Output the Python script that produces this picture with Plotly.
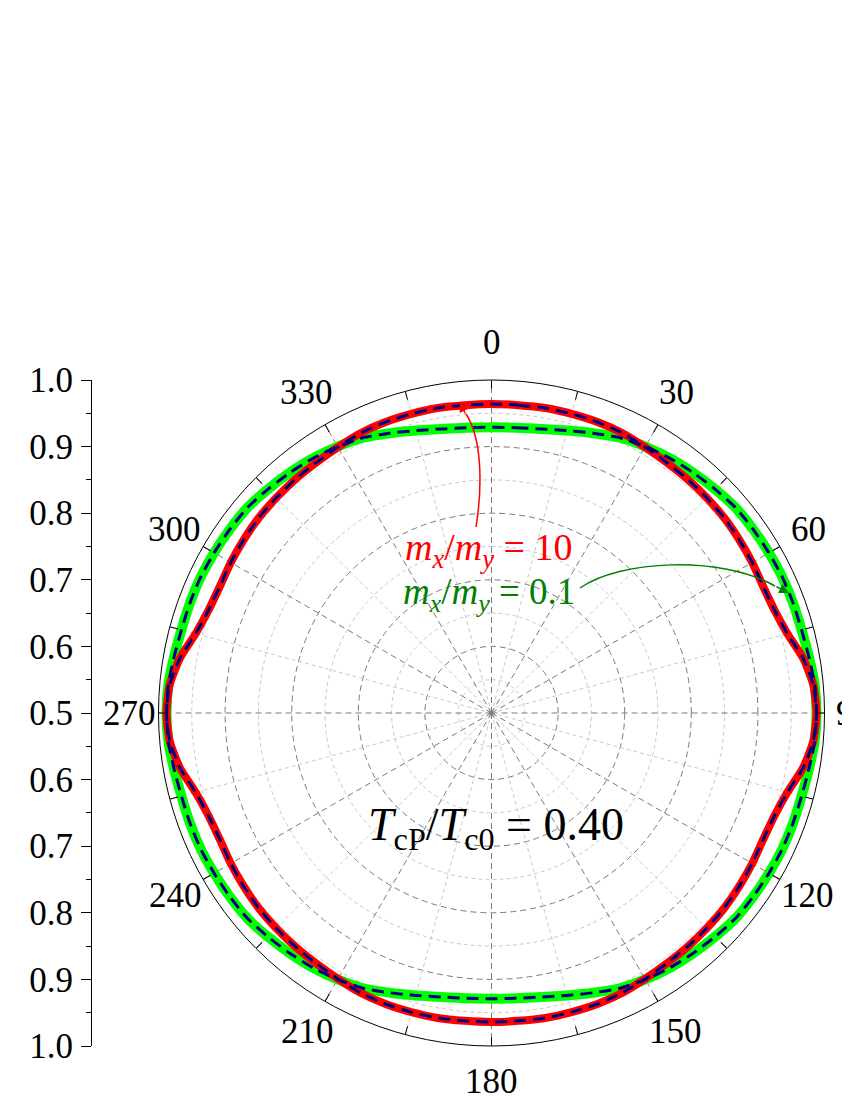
import numpy as np
import plotly.graph_objects as go

# ---------------- data ----------------
theta_deg = list(range(0, 365, 5))

# m_x/m_y = 10 (red)
r_ratio_10 = [0.964, 0.964, 0.965, 0.965, 0.965, 0.964, 0.961, 0.959, 0.958, 0.957,
              0.956, 0.954, 0.952, 0.950, 0.952, 0.960, 0.975, 0.985, 0.988,
              0.985, 0.975, 0.960, 0.952, 0.950, 0.952, 0.954, 0.956, 0.957,
              0.958, 0.959, 0.961, 0.964, 0.965, 0.965, 0.965, 0.964, 0.964,
              0.964, 0.965, 0.965, 0.965, 0.964, 0.961, 0.959, 0.958, 0.957,
              0.956, 0.954, 0.952, 0.950, 0.952, 0.960, 0.975, 0.985, 0.988,
              0.985, 0.975, 0.960, 0.952, 0.950, 0.952, 0.954, 0.956, 0.957,
              0.958, 0.959, 0.961, 0.964, 0.965, 0.965, 0.965, 0.964, 0.964]

# m_x/m_y = 0.1 (green)
r_ratio_01 = [0.929, 0.930, 0.933, 0.939, 0.947, 0.956, 0.962, 0.967, 0.971, 0.975,
              0.979, 0.980, 0.981, 0.982, 0.982, 0.982, 0.984, 0.987, 0.988,
              0.987, 0.984, 0.982, 0.982, 0.982, 0.981, 0.980, 0.979, 0.975,
              0.971, 0.967, 0.962, 0.956, 0.947, 0.939, 0.933, 0.930, 0.929,
              0.930, 0.933, 0.939, 0.947, 0.956, 0.962, 0.967, 0.971, 0.975,
              0.979, 0.980, 0.981, 0.982, 0.982, 0.982, 0.984, 0.987, 0.988,
              0.987, 0.984, 0.982, 0.982, 0.982, 0.981, 0.980, 0.979, 0.975,
              0.971, 0.967, 0.962, 0.956, 0.947, 0.939, 0.933, 0.930, 0.929]

angle_ticks = list(range(0, 360, 15))
angle_label_vals = list(range(0, 360, 30))
angle_label_text = [str(a) for a in angle_label_vals]
left_tickvals = [-0.5, -0.4, -0.3, -0.2, -0.1, 0.0, 0.1, 0.2, 0.3, 0.4, 0.5]
left_ticktext = ["1.0", "0.9", "0.8", "0.7", "0.6", "0.5", "0.6", "0.7", "0.8", "0.9", "1.0"]
major_circles = [0.6, 0.7, 0.8, 0.9]
minor_circles = [0.55, 0.65, 0.75, 0.85, 0.95]

# ---------------- layout geometry ----------------
W, H = 850, 1100
OFF = 8  # page body margin
CX, CY, R = 491.5, 713.0, 333.0
FONT = "Liberation Serif"
TICK_SIZE = 35


def fx(x):
    return (x - OFF) / W


def fy(y):
    return 1 - (y - OFF) / H


dom_x = [fx(CX - R), fx(CX + R)]
dom_y = [fy(CY + R), fy(CY - R)]

fig = go.Figure()

# minor grid circles
th_c = np.arange(0, 361, 2)
for rc in minor_circles:
    fig.add_trace(go.Scatterpolar(r=[rc] * len(th_c), theta=th_c, mode="lines",
                                  line=dict(color="#c8c8c8", width=1, dash="4px,3px"),
                                  hoverinfo="skip", showlegend=False))
# spokes
minor_r, minor_t, major_r, major_t = [], [], [], []
for a in angle_ticks:
    if a % 30 == 0:
        major_r += [0.5, 1.0, None]
        major_t += [a, a, None]
    else:
        minor_r += [0.5, 1.0, None]
        minor_t += [a, a, None]
fig.add_trace(go.Scatterpolar(r=minor_r, theta=minor_t, mode="lines",
                              line=dict(color="#c8c8c8", width=1, dash="4px,3px"),
                              hoverinfo="skip", showlegend=False))
fig.add_trace(go.Scatterpolar(r=major_r, theta=major_t, mode="lines",
                              line=dict(color="#7a7a7a", width=1, dash="6px,4px"),
                              hoverinfo="skip", showlegend=False))

# curves
fig.add_trace(go.Scatterpolar(r=r_ratio_01, theta=theta_deg, mode="lines",
                              line=dict(color="#00ff00", width=10, shape="spline", smoothing=0.6),
                              showlegend=False))
fig.add_trace(go.Scatterpolar(r=r_ratio_10, theta=theta_deg, mode="lines",
                              line=dict(color="#ff0000", width=8, shape="spline", smoothing=0.6),
                              showlegend=False))
fig.add_trace(go.Scatterpolar(r=r_ratio_01, theta=theta_deg, mode="lines",
                              line=dict(color="#000080", width=3, dash="12px,7px",
                                        shape="spline", smoothing=0.6),
                              showlegend=False))
fig.add_trace(go.Scatterpolar(r=r_ratio_10, theta=theta_deg, mode="lines",
                              line=dict(color="#000080", width=3, dash="12px,7px",
                                        shape="spline", smoothing=0.6),
                              showlegend=False))

# dummy trace for left cartesian axis
fig.add_trace(go.Scatter(x=[0.5], y=[0], mode="markers", marker=dict(opacity=0),
                         hoverinfo="skip", showlegend=False, xaxis="x", yaxis="y"))

fig.update_layout(
    width=W, height=H,
    margin=dict(l=0, r=0, t=0, b=0, pad=0, autoexpand=False),
    paper_bgcolor="white", plot_bgcolor="white",
    font=dict(family=FONT, color="black", size=TICK_SIZE),
    polar=dict(
        domain=dict(x=dom_x, y=dom_y),
        bgcolor="white",
        angularaxis=dict(rotation=90, direction="clockwise",
                         tickmode="array", tickvals=angle_ticks,
                         showticklabels=False,
                         ticks="inside", ticklen=8, tickcolor="black", tickwidth=1,
                         showline=True, linecolor="black", linewidth=1,
                         showgrid=False),
        radialaxis=dict(range=[0.5, 1.0], tickmode="array", tickvals=major_circles,
                        showticklabels=False, ticks="", showline=False,
                        showgrid=True, gridcolor="#7a7a7a", gridwidth=1,
                        griddash="6px,4px"),
    ),
    xaxis=dict(domain=[0, 0.05], range=[0, 1], visible=False),
    yaxis=dict(domain=dom_y, range=[-0.5, 0.5], anchor="free", position=fx(91),
               side="left", tickmode="array", tickvals=left_tickvals,
               ticktext=left_ticktext, ticks="outside", ticklen=10,
               tickcolor="black", showline=True, linecolor="black", linewidth=1,
               showgrid=False, zeroline=False, ticklabelstandoff=1, automargin=False,
               tickfont=dict(family=FONT, size=TICK_SIZE, color="black"),
               minor=dict(ticks="outside", ticklen=5, dtick=0.05,
                          tickcolor="black", showgrid=False)),
)

# angular tick labels placed around the circle
for a, t in zip(angle_label_vals, angle_label_text):
    rad = np.deg2rad(a)
    c = np.cos(rad)
    rl = 362 + (9 if c >= 0 else 6) * abs(c)
    lx = CX + rl * np.sin(rad)
    ly = CY - rl * c
    fig.add_annotation(xref="paper", yref="paper", x=fx(lx), y=fy(ly), text=t,
                       showarrow=False, xanchor="center", yanchor="middle",
                       borderpad=0,
                       font=dict(family=FONT, size=TICK_SIZE, color="black"))

# text annotations
fig.add_annotation(xref="paper", yref="paper", x=fx(496), y=fy(828),
                   text="<i>T</i><sub>cP</sub>/<i>T</i><sub>c0</sub> = 0.40",
                   showarrow=False, xanchor="center", yanchor="middle",
                   font=dict(family=FONT, size=46, color="black"))
fig.add_annotation(xref="paper", yref="paper", x=fx(489), y=fy(550),
                   text="<i>m</i><sub><i>x</i></sub>/<i>m</i><sub><i>y</i></sub> = 10",
                   showarrow=False, xanchor="center", yanchor="middle",
                   font=dict(family=FONT, size=38, color="#ff0000"))
fig.add_annotation(xref="paper", yref="paper", x=fx(489), y=fy(594),
                   text="<i>m</i><sub><i>x</i></sub>/<i>m</i><sub><i>y</i></sub> = 0.1",
                   showarrow=False, xanchor="center", yanchor="middle",
                   font=dict(family=FONT, size=37, color="#008000"))


# curved arrows
def path_c(p0, c1, c2, p1):
    return "M {},{} C {},{} {},{} {},{}".format(fx(p0[0]), fy(p0[1]), fx(c1[0]), fy(c1[1]),
                                               fx(c2[0]), fy(c2[1]), fx(p1[0]), fy(p1[1]))


fig.add_shape(type="path", xref="paper", yref="paper",
              path=path_c((476, 527), (482, 490), (483, 440), (466, 414)),
              line=dict(color="#ff0000", width=1.5))
fig.add_annotation(xref="paper", yref="paper", x=fx(460), y=fy(402), ax=6, ay=13,
                   text="", showarrow=True, arrowhead=2, arrowsize=1.3,
                   arrowwidth=1.5, arrowcolor="#ff0000")
fig.add_shape(type="path", xref="paper", yref="paper",
              path=path_c((580, 588), (620, 560), (720, 555), (775, 586)),
              line=dict(color="#008000", width=1.5))
fig.add_annotation(xref="paper", yref="paper", x=fx(789), y=fy(593), ax=-14, ay=-7,
                   text="", showarrow=True, arrowhead=2, arrowsize=1.3,
                   arrowwidth=1.5, arrowcolor="#008000")

fig.write_html("out.html")
